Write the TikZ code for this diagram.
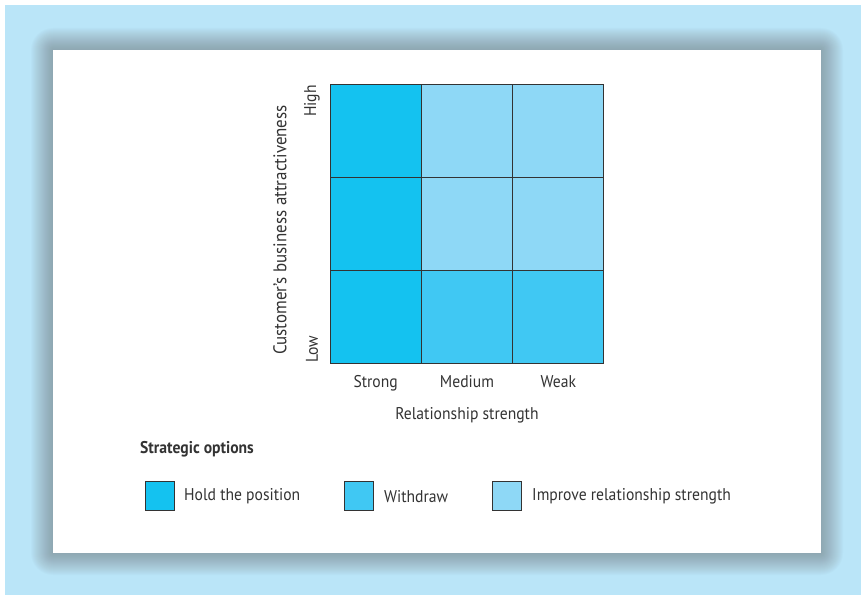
\documentclass[tikz,border=0pt]{standalone}
\usepackage{fontspec}
\setmainfont{PT Sans}[FakeStretch=0.92]
\usetikzlibrary{positioning}
\definecolor{PageBlue}{RGB}{186, 229, 248}
\definecolor{HoldBlue}{RGB}{20, 194, 240}
\definecolor{WithdrawBlue}{RGB}{64, 200, 243}
\definecolor{ImproveBlue}{RGB}{142, 216, 246}
\definecolor{TextGray}{RGB}{51, 51, 51}
\definecolor{ShadowGray}{RGB}{110, 112, 115}

\begin{document}
\begin{tikzpicture}[
    x=1pt, y=1pt,
    cell/.style={draw=TextGray, line width=1pt, minimum width=91.33pt, minimum height=93pt, inner sep=0pt, outer sep=0pt},
    hold/.style={cell, fill=HoldBlue},
    withdraw/.style={cell, fill=WithdrawBlue},
    improve/.style={cell, fill=ImproveBlue},
    keybox/.style={draw=TextGray, line width=1pt, minimum width=29pt, minimum height=29pt, inner sep=0pt},
    label/.style={text=TextGray, font=\fontsize{17}{20}\selectfont, inner sep=0pt}
  ]
    \useasboundingbox (0,0) rectangle (862,595);

    % Page and panel with soft shadow
    \fill[PageBlue] (5,0) rectangle (861,590);
    \foreach \r in {1,...,22} {
      \fill[ShadowGray, opacity=0.028, rounded corners=\r pt] ({53-\r},{42-\r}) rectangle ({821+\r},{545+\r});
    }
    \fill[white] (53,42) rectangle (821,545);

    % Matrix cells (column/row/option)
    \foreach \col/\row/\kind in {1/1/hold, 1/2/hold, 1/3/hold,
                                 2/1/improve, 3/1/improve,
                                 2/2/improve, 3/2/improve,
                                 2/3/withdraw, 3/3/withdraw} {
      \node[\kind] (c\col\row) at ({330+91.33*(\col-0.5)}, {510-93*(\row-0.5)}) {};
    }

    % Axis labels
    \node[label, rotate=90, anchor=east] (high) at (312,510) {High};
    \node[label, rotate=90, anchor=west] (low) at (312,232) {Low};
    \node[label, font=\fontsize{18.4}{21}\selectfont, rotate=90] (ylabel) at (280,365) {Customer’s business attractiveness};
    \foreach \col/\txt in {1/Strong, 2/Medium, 3/Weak} {
      \node[label, below=11pt of c\col3] (x\col) {\txt};
    }
    \node[label, below=20pt of x2] (xlabel) {Relationship strength};

    % Legend
    \node[label, font=\fontsize{17}{20}\selectfont\bfseries, anchor=west] (keytitle) at (140,146) {Strategic options};
    \node[keybox, fill=HoldBlue] (k1) at (160,99.5) {};
    \node[keybox, fill=WithdrawBlue] (k2) at (359,99.5) {};
    \node[keybox, fill=ImproveBlue] (k3) at (507,99.5) {};
    \node[label, right=9pt of k1, yshift=-1pt] (t1) {Hold the position};
    \node[label, right=10pt of k2, yshift=-1pt] (t2) {Withdraw};
    \node[label, right=10pt of k3, yshift=-1pt] (t3) {Improve relationship strength};
  \end{tikzpicture}
\end{document}
